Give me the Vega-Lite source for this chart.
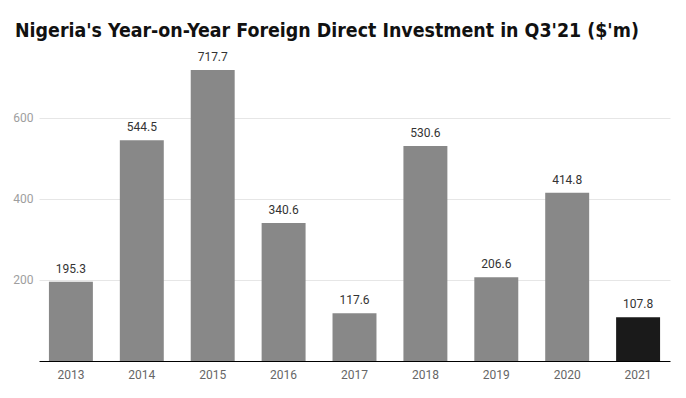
{
  "$schema": "https://vega.github.io/schema/vega-lite/v6.json",
  "width": 631,
  "height": 300,
  "autosize": "none",
  "padding": {"left": 39, "top": 61, "right": 16, "bottom": 37},
  "background": "white",
  "title": {
    "text": "Nigeria's Year-on-Year Foreign Direct Investment in Q3'21 ($'m)",
    "anchor": "start",
    "frame": "group",
    "dx": -24,
    "offset": 10,
    "font": "DejaVu Sans Condensed",
    "fontSize": 19.4,
    "fontWeight": "bold",
    "color": "#111111"
  },
  "config": {
    "view": {"stroke": null},
    "font": "Roboto"
  },
  "data": {
    "values": [
      {"year": "2013", "value": 195.3},
      {"year": "2014", "value": 544.5},
      {"year": "2015", "value": 717.7},
      {"year": "2016", "value": 340.6},
      {"year": "2017", "value": 117.6},
      {"year": "2018", "value": 530.6},
      {"year": "2019", "value": 206.6},
      {"year": "2020", "value": 414.8},
      {"year": "2021", "value": 107.8}
    ]
  },
  "encoding": {
    "x": {
      "field": "year",
      "type": "nominal",
      "sort": null,
      "scale": {"paddingInner": 0.38, "paddingOuter": 0.14},
      "axis": {
        "title": null,
        "labelAngle": 0,
        "ticks": false,
        "domainColor": "#000000",
        "domainWidth": 1,
        "labelColor": "#666666",
        "labelFont": "Roboto",
        "labelFontSize": 12,
        "labelPadding": 8,
        "grid": false
      }
    },
    "y": {
      "field": "value",
      "type": "quantitative",
      "scale": {"domain": [0, 740], "nice": false},
      "axis": {
        "title": null,
        "values": [200, 400, 600],
        "ticks": false,
        "domain": false,
        "labelColor": "#9e9e9e",
        "labelFont": "Roboto",
        "labelFontSize": 12,
        "labelPadding": 6,
        "gridColor": "#e6e6e6",
        "gridWidth": 1
      }
    }
  },
  "layer": [
    {
      "mark": {"type": "bar"},
      "encoding": {
        "color": {
          "condition": {"test": "datum.year == '2021'", "value": "#1a1a1a"},
          "value": "#888888"
        }
      }
    },
    {
      "mark": {
        "type": "text",
        "baseline": "bottom",
        "dy": -6,
        "font": "Roboto",
        "fontSize": 12,
        "color": "#333333"
      },
      "encoding": {
        "text": {"field": "value", "type": "quantitative", "format": ".1f"}
      }
    }
  ]
}
